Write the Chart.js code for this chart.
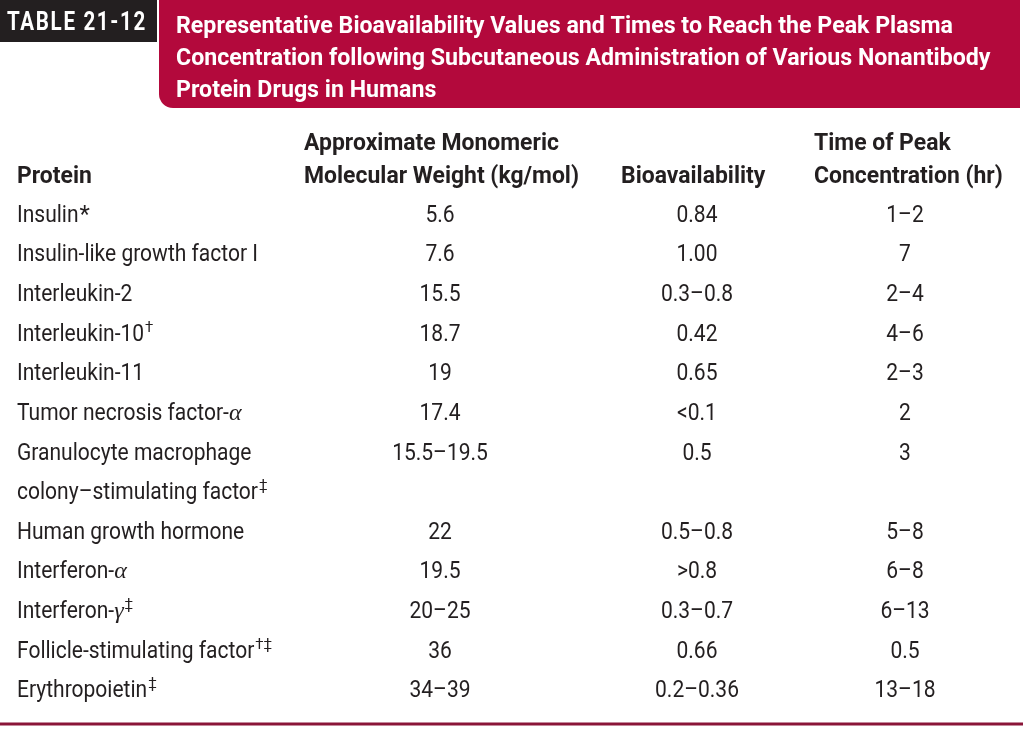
<!DOCTYPE html>
<html>
<head>
<meta charset="utf-8">
<script src="https://cdn.jsdelivr.net/npm/chart.js@4.4.1/dist/chart.umd.min.js"></script>
<style>
    html, body { margin: 0; padding: 0; background: #fff; }
    #wrap { width: 1023px; height: 733px; }
</style>
</head>
<body>
<div id="wrap"><canvas id="table-chart" width="1023" height="733"></canvas></div>
<script>
// === Table 21-12: SC bioavailability / Tmax of nonantibody protein drugs ===

const tableLabel = 'TABLE 21-12';
const titleLines = [
    'Representative Bioavailability Values and Times to Reach the Peak Plasma',
    'Concentration following Subcutaneous Administration of Various Nonantibody',
    'Protein Drugs in Humans',
];
const headers = [
    ['Protein'],
    ['Approximate Monomeric', 'Molecular Weight (kg/mol)'],
    ['Bioavailability'],
    ['Time of Peak', 'Concentration (hr)'],
];

const proteins = [
    'Insulin',
    'Insulin-like growth factor I',
    'Interleukin-2',
    'Interleukin-10',
    'Interleukin-11',
    'Tumor necrosis factor-α',
    'Granulocyte macrophage\ncolony–stimulating factor',
    'Human growth hormone',
    'Interferon-α',
    'Interferon-γ',
    'Follicle-stimulating factor',
    'Erythropoietin',
];
const notes = ['*', '', '', '†', '', '', '‡', '', '', '‡', '†‡', '‡'];
const molWeight = ['5.6', '7.6', '15.5', '18.7', '19', '17.4', '15.5–19.5', '22', '19.5', '20–25', '36', '34–39'];
const bioavailability = ['0.84', '1.00', '0.3–0.8', '0.42', '0.65', '<0.1', '0.5', '0.5–0.8', '>0.8', '0.3–0.7', '0.66', '0.2–0.36'];
const peakTime = ['1–2', '7', '2–4', '4–6', '2–3', '2', '3', '5–8', '6–8', '6–13', '0.5', '13–18'];

// layout + style
const COL_X = [17, 440, 697, 905]; // name column is left aligned, others centred
const HEAD_X = [17, 304, 621, 814];
const INK = '#231f20';
const RED = '#b3093c';
const RULE = '#8a1538';
const FONT_BODY = "400 24px 'Roboto', 'Liberation Sans', sans-serif";
const FONT_BOLD = "bold 23px 'Liberation Sans Narrow', 'Roboto', 'Liberation Sans', sans-serif";
const FONT_TITLE = "bold 23px 'Liberation Sans Narrow', 'Roboto', 'Liberation Sans', sans-serif";
const FONT_LABEL = "bold 25px 'Liberation Sans Narrow', 'Roboto', 'Liberation Sans', sans-serif";
const FONT_GREEK = "italic 24px 'Liberation Serif', 'DejaVu Serif', serif";
const FONT_NOTE = "400 15px 'Roboto', 'DejaVu Sans', sans-serif";

// one slot per printed line (granulocyte name wraps)
const slotLabels = [];
const rowSlot = [];
proteins.forEach((p) => {
    rowSlot.push(slotLabels.length);
    p.split('\n').forEach((ln) => slotLabels.push(ln));
});

const columns = [proteins, molWeight, bioavailability, peakTime];

function squeeze(ctx, font, sample, target) {
    ctx.font = font;
    return target / ctx.measureText(sample).width;
}

function runsOf(str) {
    const out = [];
    for (const ch of str) {
        const greek = /[α-ω]/.test(ch);
        const last = out[out.length - 1];
        if (last && last.greek === greek) last.t += ch;
        else out.push({ t: ch, greek });
    }
    return out;
}

function richWidth(ctx, str, font, sx) {
    return runsOf(str).reduce((w, r) => {
        ctx.font = r.greek ? FONT_GREEK : font;
        return w + ctx.measureText(r.t).width * (r.greek ? 1 : sx);
    }, 0);
}

function drawRich(ctx, str, x, y, font, sx, align) {
    const w = richWidth(ctx, str, font, sx);
    let cx = align === 'center' ? x - w / 2 : x;
    ctx.textAlign = 'left';
    runsOf(str).forEach((r) => {
        const s = r.greek ? 1 : sx;
        ctx.font = r.greek ? FONT_GREEK : font;
        ctx.save();
        ctx.translate(cx, y);
        ctx.scale(s, 1);
        ctx.fillText(r.t, 0, 0);
        ctx.restore();
        cx += ctx.measureText(r.t).width * s;
    });
    return cx;
}

const tablePlugin = {
    id: 'tableText',
    beforeDraw(chart) {
        const ctx = chart.ctx;
        ctx.save();
        ctx.fillStyle = '#fff';
        ctx.fillRect(0, 0, chart.width, chart.height);
        ctx.textBaseline = 'alphabetic';

        // label box
        ctx.fillStyle = INK;
        ctx.fillRect(0, 0, 157, 42);
        ctx.fillStyle = '#fff';
        ctx.letterSpacing = '2px';
        drawRich(ctx, tableLabel, 7, 30, FONT_LABEL, squeeze(ctx, FONT_LABEL, tableLabel, 140), 'left');
        ctx.letterSpacing = '0px';

        // title banner, round bottom-left corner
        const r = 14;
        ctx.fillStyle = RED;
        ctx.beginPath();
        ctx.moveTo(159, 0);
        ctx.lineTo(1020, 0);
        ctx.lineTo(1020, 108);
        ctx.lineTo(159 + r, 108);
        ctx.arcTo(159, 108, 159, 108 - r, r);
        ctx.closePath();
        ctx.fill();

        ctx.fillStyle = '#fff';
        const sT = squeeze(ctx, FONT_TITLE, titleLines[0], 777);
        titleLines.forEach((ln, i) => drawRich(ctx, ln, 176, 33 + i * 32, FONT_TITLE, sT, 'left'));

        // column headers, bottom aligned
        ctx.fillStyle = INK;
        const sH = squeeze(ctx, FONT_BOLD, headers[1][1], 275);
        headers.forEach((lines, c) => {
            lines.forEach((ln, k) => {
                const y = 183 - (lines.length - 1 - k) * 33;
                drawRich(ctx, ln, HEAD_X[c], y, FONT_BOLD, sH, 'left');
            });
        });

        // closing rule
        ctx.strokeStyle = RULE;
        ctx.lineWidth = 3;
        ctx.beginPath();
        ctx.moveTo(0, 724);
        ctx.lineTo(chart.width, 724);
        ctx.stroke();
        ctx.restore();
    },
    afterDatasetsDraw(chart) {
        const ctx = chart.ctx;
        const yScale = chart.scales.y;
        const sB = squeeze(ctx, FONT_BODY, proteins[1], 241);
        ctx.save();
        ctx.fillStyle = INK;
        ctx.textBaseline = 'alphabetic';
        chart.data.datasets.forEach((ds, c) => {
            const meta = chart.getDatasetMeta(c);
            meta.data.forEach((pt, i) => {
                const text = ds.data[i].text;
                if (c === 0) {
                    const lines = text.split('\n');
                    let endX = 0;
                    let y = 0;
                    lines.forEach((ln, k) => {
                        y = yScale.getPixelForValue(rowSlot[i] + k) + 9;
                        endX = drawRich(ctx, ln, pt.x, y, FONT_BODY, sB, 'left');
                    });
                    if (notes[i] === '*') {
                        // asterisk already sits high in the body face
                        drawRich(ctx, notes[i], endX + 1, y, FONT_BODY, 1, 'left');
                    } else if (notes[i]) {
                        ctx.font = FONT_NOTE;
                        ctx.textAlign = 'left';
                        ctx.fillText(notes[i], endX + 1, y - 9);
                    }
                } else {
                    drawRich(ctx, text, pt.x, pt.y + 9, FONT_BODY, sB, 'center');
                }
            });
        });
        ctx.restore();
    },
};

new Chart(document.getElementById('table-chart'), {
    type: 'scatter',
    data: {
        labels: slotLabels,
        datasets: columns.map((vals, c) => ({
            label: headers[c].join(' '),
            data: vals.map((v, i) => ({ x: COL_X[c], y: slotLabels[rowSlot[i]], text: v })),
            pointRadius: 0,
            pointHoverRadius: 0,
        })),
    },
    options: {
        responsive: false,
        animation: false,
        devicePixelRatio: 1,
        layout: { padding: { top: 193, bottom: 25, left: 0, right: 0 } },
        plugins: { legend: { display: false }, tooltip: { enabled: false } },
        events: [],
        scales: {
            x: { type: 'linear', min: 0, max: 1023, display: false },
            y: { type: 'category', labels: slotLabels, offset: true, display: false },
        },
    },
    plugins: [tablePlugin],
});
</script>
</body>
</html>
